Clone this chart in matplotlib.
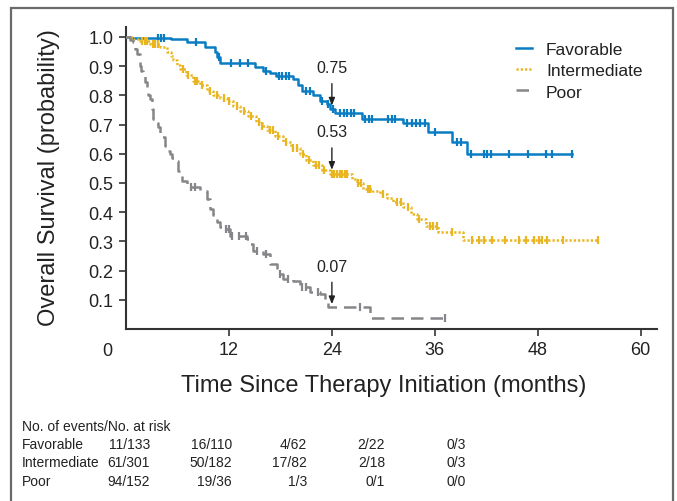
import numpy as np
import matplotlib
matplotlib.use('Agg')
import matplotlib.pyplot as plt
from matplotlib import font_manager
from matplotlib.patches import Rectangle
from matplotlib.lines import Line2D

names = {f.name for f in font_manager.fontManager.ttflist}
NARROW = 'Liberation Sans Narrow' if 'Liberation Sans Narrow' in names else 'Liberation Sans'
plt.rcParams['font.family'] = [NARROW, 'DejaVu Sans']

# Kaplan-Meier steps (event time, survival after event), end of follow-up, censor times
fav_t = [0.5, 5.3, 7.1, 9.2, 10.4, 10.6, 11.0, 15.0, 16.0, 16.8, 17.5, 19.5, 20.0, 20.5,
         21.8, 22.6, 23.4, 23.8, 24.4, 27.5, 32.3, 35.2, 38.0, 39.7]
fav_s = [0.996, 0.993, 0.983, 0.965, 0.948, 0.93, 0.911, 0.896, 0.885, 0.875, 0.867, 0.855,
         0.835, 0.815, 0.80, 0.78, 0.77, 0.753, 0.74, 0.72, 0.705, 0.674, 0.64, 0.60]
fav_end = 52.0
fav_cens = [3.7, 4.1, 4.4, 8.2, 10.8, 12.2, 13.3, 14.2, 16.3, 17.8, 18.2, 18.6, 19.0, 21.0,
            21.4, 22.9, 23.6, 24.1, 24.9, 25.4, 25.8, 26.2, 26.6, 27.9, 28.3, 28.7, 30.6,
            31.0, 31.4, 32.8, 33.3, 33.8, 34.3, 34.8, 36.0, 38.6, 39.0, 40.2, 41.7, 42.1,
            42.5, 44.6, 46.9, 49.0, 49.7, 52.0]

int_t = [0.8, 1.6, 2.8, 4.0, 4.8, 5.2, 5.5, 6.0, 6.3, 7.0, 7.8, 8.6, 9.4, 10.2, 11.0, 11.8,
         12.5, 13.3, 14.2, 15.2, 15.8, 16.4, 17.4, 18.3, 19.2, 20.3, 21.0, 21.8, 22.8, 23.8,
         26.3, 26.9, 27.6, 28.7, 29.6, 30.4, 31.1, 32.3, 33.2, 33.9, 35.0, 36.4, 39.3]
int_s = [0.993, 0.985, 0.976, 0.966, 0.95, 0.935, 0.92, 0.905, 0.89, 0.87, 0.85, 0.835,
         0.815, 0.80, 0.79, 0.78, 0.764, 0.745, 0.73, 0.71, 0.695, 0.68, 0.66, 0.64, 0.62,
         0.60, 0.58, 0.56, 0.545, 0.53, 0.515, 0.50, 0.48, 0.473, 0.462, 0.45, 0.434, 0.417,
         0.395, 0.377, 0.353, 0.332, 0.305]
int_end = 55.0
int_cens = [1.9, 2.2, 2.5, 3.1, 3.4, 3.7, 6.7, 7.2, 8.0, 8.3, 8.9, 9.8, 10.6, 11.4, 12.0,
            12.9, 13.7, 14.6, 15.5, 15.9, 16.8, 17.1, 17.7, 18.7, 19.5, 19.9, 20.6, 21.3,
            22.2, 22.5, 23.1, 24.0, 24.3, 24.6, 24.9, 25.2, 25.5, 25.8, 27.1, 27.4, 28.2,
            28.5, 30.0, 31.6, 32.0, 32.9, 34.2, 35.4, 35.8, 36.2, 38.0, 40.3, 41.1, 41.7,
            42.7, 44.2, 45.8, 46.6, 47.6, 48.1, 48.5, 49.1, 50.9, 55.0]

poor_t = [0.5, 0.8, 1.1, 1.3, 1.6, 1.8, 2.0, 2.2, 2.4, 2.6, 2.8, 3.0, 3.2, 3.5, 3.7, 4.0,
          4.2, 4.5, 4.8, 5.1, 5.4, 5.7, 6.1, 6.5, 7.1, 8.6, 9.4, 9.8, 10.2, 10.6, 11.0, 11.2,
          12.1, 14.1, 14.5, 14.8, 16.0, 16.8, 17.6, 18.3, 19.5, 20.3, 21.4, 22.6, 23.2, 23.5,
          28.4]
poor_s = [0.99, 0.983, 0.96, 0.94, 0.90, 0.885, 0.867, 0.845, 0.82, 0.80, 0.788, 0.753,
          0.72, 0.705, 0.69, 0.67, 0.657, 0.627, 0.61, 0.60, 0.585, 0.575, 0.54, 0.507,
          0.486, 0.474, 0.445, 0.41, 0.39, 0.366, 0.35, 0.342, 0.32, 0.308, 0.29, 0.267,
          0.257, 0.223, 0.188, 0.171, 0.164, 0.144, 0.127, 0.12, 0.092, 0.075, 0.038]
poor_end = 37.2
poor_cens = [7.6, 8.1, 11.6, 12.0, 12.4, 13.2, 14.0, 15.3, 16.3, 18.0, 18.9, 20.5, 21.0,
             22.4, 27.3, 37.2]

labels = ['Favorable', 'Intermediate', 'Poor']
colors = ['#0a7cc2', '#e9b622', '#86868a']

# 24-month survival call-outs
callout_t = 24
callout_vals = [0.75, 0.53, 0.07]

xticks = [12, 24, 36, 48, 60]
yticks = [0.1, 0.2, 0.3, 0.4, 0.5, 0.6, 0.7, 0.8, 0.9, 1.0]

risk_header = 'No. of events/No. at risk'
risk_rows = {
    'Favorable': ['11/133', '16/110', '4/62', '2/22', '0/3'],
    'Intermediate': ['61/301', '50/182', '17/82', '2/18', '0/3'],
    'Poor': ['94/152', '19/36', '1/3', '0/1', '0/0'],
}


def km_value(t_ev, s_ev, t):
    i = np.searchsorted(t_ev, t, side='right')
    return 1.0 if i == 0 else s_ev[i - 1]


W, H = 677, 502
fig = plt.figure(figsize=(W / 100, H / 100), dpi=100)
ax = fig.add_axes([126 / W, 1 - 330 / H, (657 - 126) / W, (330 - 28) / H])
ax.set_xlim(0, 61.9)
ax.set_ylim(0, 1.034)

styles = [dict(linestyle='-'),
          dict(linestyle=(0, (0.9, 0.8))),
          dict(linestyle=(0, (5.0, 2.8)))]

curves = [(fav_t, fav_s, fav_end, fav_cens),
          (int_t, int_s, int_end, int_cens),
          (poor_t, poor_s, poor_end, poor_cens)]

for (t_ev, s_ev, t_end, cens), col, st in zip(curves, colors, styles):
    xs = [0] + list(t_ev) + [t_end]
    ys = [1.0] + list(s_ev) + [s_ev[-1]]
    ax.step(xs, ys, where='post', color=col, lw=1.8, **st, zorder=3)
    cy = [km_value(t_ev, s_ev, c) for c in cens]
    ax.plot(cens, cy, linestyle='none', marker='|', markersize=6, mew=1.6, color=col, zorder=4)

for val in callout_vals:
    ax.annotate('', xy=(callout_t, val + 0.015), xytext=(callout_t, val + 0.09),
                arrowprops=dict(arrowstyle='-|>,head_length=0.45,head_width=0.18',
                                color='#222222', lw=1.0, shrinkA=0, shrinkB=0))
    ax.text(callout_t, val + 0.12, f'{val:.2f}', ha='center', va='bottom',
            fontsize=11.5, color='#222222')

for side in ['top', 'right']:
    ax.spines[side].set_visible(False)
for side in ['left', 'bottom']:
    ax.spines[side].set_color('#333333')
    ax.spines[side].set_linewidth(1.5)

ax.set_xticks(xticks)
ax.set_yticks(yticks)
ax.set_yticklabels([f'{v:.1f}' for v in yticks])
ax.tick_params(axis='both', direction='out', length=5, width=1.2, color='#333333',
               labelsize=13, labelcolor='#222222', pad=4)
# lone "0" sits left of the origin, level with the x tick labels
ax.text(-19 / 8.583, -0.044, '0', ha='center', va='top', fontsize=13, color='#222222')

ax.set_ylabel('Overall Survival (probability)', fontsize=17, color='#222222')
ax.yaxis.set_label_coords(-66 / (657 - 126), (330 - 178) / (330 - 28))
fig.text(384 / W, 1 - 386 / H, 'Time Since Therapy Initiation (months)', ha='center',
         va='center', fontsize=17, color='#222222')

handles = [Line2D([], [], color=c, lw=1.8, **s) for c, s in zip(colors, styles)]
ax.legend(handles, labels, loc='upper left', bbox_to_anchor=(380 / 531, 0.985),
          frameon=False, fontsize=12.5, handlelength=0.9, handletextpad=0.8,
          labelspacing=0.35, borderaxespad=0.2, labelcolor='#222222')

# number at risk table
fs_tab = 10
fig.text(22 / W, 1 - 427 / H, risk_header, ha='left', va='center', fontsize=fs_tab, color='#222222')
col_right = [150, 232, 307, 385, 466]
row_y = [445, 463, 482]
for (name, vals), y in zip(risk_rows.items(), row_y):
    fig.text(22 / W, 1 - y / H, name, ha='left', va='center', fontsize=fs_tab, color='#222222')
    for v, x in zip(vals, col_right):
        fig.text(x / W, 1 - y / H, v, ha='right', va='center', fontsize=fs_tab, color='#222222')

fig.patches.append(Rectangle((10.5 / W, -0.02), (673 - 10.5) / W, 1 - 9 / H + 0.02,
                             transform=fig.transFigure, fill=False, edgecolor='#6a6a6a',
                             lw=1.6, clip_on=False))

fig.savefig('out.png', dpi=100)
